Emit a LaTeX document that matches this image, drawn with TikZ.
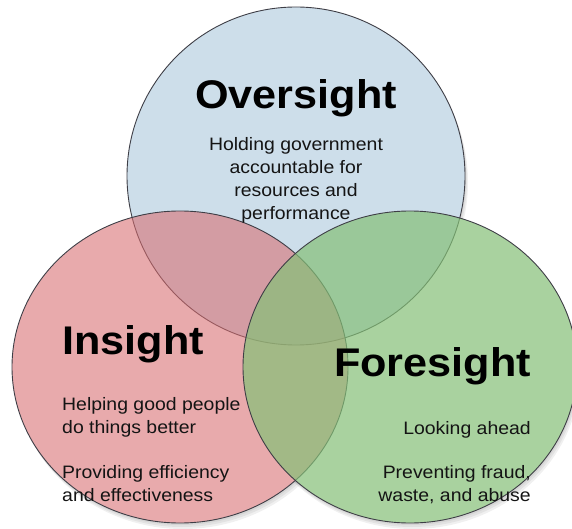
\documentclass[tikz,border=0pt]{standalone}
\usepackage{fontspec}
\setmainfont{Liberation Sans}[FakeStretch=1.08]
\usepackage{tikz}
\definecolor{overblue}{RGB}{205,222,234}
\definecolor{inred}{RGB}{217,109,112}
\definecolor{foregreen}{RGB}{133,192,119}
\definecolor{rimgray}{RGB}{62,62,70}
\pgfkeys{tikz/sighttitle/.style={font=\fontsize{40}{42}\selectfont\bfseries,
                                  inner sep=0pt}}
\pgfkeys{tikz/sighttext/.style={font=\fontsize{18}{23}\selectfont,
                                 text=black!92,
                                 inner sep=0pt}}
\pgfkeys{tikz/rim/.style={draw=rimgray, line width=0.9pt}}
\pgfkeys{tikz/haze/.style={fill=black, fill opacity=0.06}}

\begin{document}
\begin{tikzpicture}[x=1pt, y=-1pt]
                \useasboundingbox (0,0) rectangle (572,529);

                % soft shadow, then a white base so it only shows outside
                \foreach \d in {2,4,6} {
                    \fill[haze] (296+\d/2, 176+\d) circle [radius=169];
                    \fill[haze] (180+\d/2, 367+\d) ellipse [x radius=168, y radius=156];
                    \fill[haze] (410+\d/2, 367+\d) ellipse [x radius=167, y radius=156];
                }
                \fill[white] (296,176) circle [radius=169];
                \fill[white] (180,367) ellipse [x radius=168, y radius=156];
                \fill[white] (410,367) ellipse [x radius=167, y radius=156];

                \filldraw[rim, fill=overblue] (296,176) circle [radius=169];
                \filldraw[rim, fill=inred, fill opacity=0.58] (180,367) ellipse [x radius=168, y radius=156];
                \filldraw[rim, fill=foregreen, fill opacity=0.7] (410,367) ellipse [x radius=167, y radius=156];

                \node[sighttitle, anchor=base] (over) at (296,109) {Oversight};
                \node[sighttext, align=center, anchor=north] (overtext) at (296,137)
                    {Holding government\\accountable for\\resources and\\performance};

                \node[sighttitle, anchor=base west] (ins) at (62,354) {Insight};
                \node[sighttext, align=left, anchor=north west] (instext) at (62,397)
                    {Helping good people\\do things better};
                \node[sighttext, align=left, anchor=north west] (insmore) at (62,465)
                    {Providing efficiency\\and effectiveness};

                \node[sighttitle, anchor=base east] (fore) at (531,376) {Foresight};
                \node[sighttext, anchor=base east] (foretext) at (531,434) {Looking ahead};
                \node[sighttext, align=right, anchor=north east] (foremore) at (531,465)
                    {Preventing fraud,\\waste, and abuse};
            \end{tikzpicture}
\end{document}
